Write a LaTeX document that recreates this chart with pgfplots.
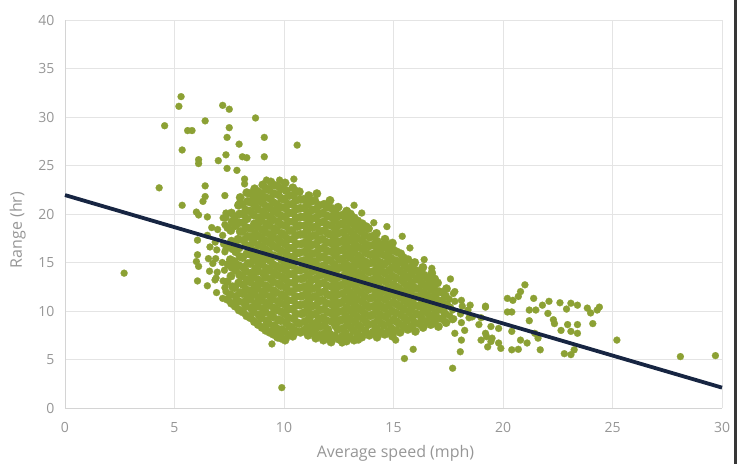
\documentclass[border=0pt]{standalone}
\usepackage{fontspec}
\setmainfont{Open Sans}
\usepackage{pgfplots}
\pgfplotsset{compat=1.18}
\definecolor{ptgreen}{RGB}{140,161,52}
\definecolor{ptnavy}{RGB}{23,37,66}
\definecolor{gridc}{RGB}{228,228,228}
\definecolor{axc}{RGB}{212,212,212}
\definecolor{txtc}{RGB}{150,150,150}
\begin{document}
\begin{tikzpicture}
\begin{axis}[
  set layers,
  at={(0,0)}, anchor=south west,
  scale only axis, width=657bp, height=388bp,
  xmin=0, xmax=30, ymin=0, ymax=40,
  xtick={0,5,...,30}, ytick={0,5,...,40},
  grid=major, major grid style={draw=gridc, line width=0.8bp},
  axis lines*=left, axis line style={draw=axc, line width=0.8bp},
  major tick length=0pt,
  /pgf/number format/assume math mode=true,
  ticklabel style={font=\fontsize{14bp}{16bp}\selectfont, text=txtc},
  yticklabel style={xshift=-7bp},
  xticklabel style={yshift=-11bp},
  xlabel={Average speed (mph)}, ylabel={Range (hr)},
  every axis x label/.style={at={(axis description cs:0.503,-0.116)}, anchor=center, font=\fontsize{16bp}{18bp}\selectfont, text=txtc},
  every axis y label/.style={at={(axis description cs:-0.072,0.459)}, rotate=90, anchor=center, font=\fontsize{16bp}{18bp}\selectfont, text=txtc},
]
% sparse points
\addplot[only marks, mark=*, mark size=3.5bp, mark options={fill=ptgreen, draw=ptgreen, line width=0.2bp}] coordinates {
(2.7,13.9) (4.3,22.7) (4.55,29.1) (5.3,32.1) (5.2,31.1) (5.6,28.6) (5.8,28.6) (5.35,26.6)
(6.4,29.6) (7.2,31.2) (7.5,30.8) (8.7,29.9) (7.5,28.9) (7.4,27.9) (9.1,27.9) (7.95,27.2)
(10.6,27.1) (7.35,26.1) (6.1,25.6) (6.1,25.2) (7.0,25.5) (8.1,25.9) (8.3,25.8) (9.1,25.9)
(7.4,24.7) (7.85,24.5) (8.2,23.6) (8.2,23.1) (6.4,22.9) (6.4,21.8) (6.3,21.3) (7.3,21.9)
(5.35,20.9) (6.0,20.2) (6.1,19.9) (6.5,19.7) (7.35,20.1) (7.35,19.6) (7.95,21.1) (9.2,23.5)
(9.8,23.5) (10.45,23.6) (10.5,22.5) (6.05,15.8) (6.0,15.1) (6.1,14.6) (6.05,13.1) (6.05,17.3)
(6.75,14.9) (6.9,13.4) (6.7,18.6) (7.35,16.4) (7.35,12.0) (7.8,11.0) (9.15,8.45) (9.5,8.1)
(9.8,7.8) (9.45,6.6) (9.9,2.1) (10.4,8.0) (11.3,8.6) (13.2,20.9) (13.55,20.1) (14.1,19.1)
(14.7,18.7) (15.4,17.7) (15.75,16.5) (16.4,15.3) (16.75,14.4) (17.6,13.3) (17.8,12.0) (18.1,11.1)
(18.5,10.6) (19.2,10.4) (17.7,9.1) (17.8,7.7) (18.1,7.0) (18.25,8.0) (18.05,5.8) (17.7,4.1)
(15.5,5.1) (15.9,6.05) (15.1,7.0) (12.65,6.7) (13.4,7.0) (11.8,7.7) (19.25,7.35) (19.45,6.85)
(21.0,12.7) (20.8,12.0) (20.7,11.5) (20.2,11.3) (20.45,11.1) (21.4,11.3) (22.1,11.0) (22.6,10.85)
(23.1,10.8) (23.4,10.6) (23.85,10.3) (24.3,10.1) (19.2,10.5) (20.2,9.9) (20.4,9.9) (21.2,10.1)
(21.5,10.1) (21.2,9.0) (22.05,9.75) (22.3,9.1) (22.35,8.7) (22.95,8.6) (23.4,8.6) (24.1,8.7)
(22.65,8.0) (23.1,7.9) (23.4,7.7) (25.2,7.0) (19.2,7.7) (19.5,7.2) (19.8,6.7) (19.9,6.15)
(20.4,6.0) (20.7,6.05) (20.8,7.0) (21.1,6.7) (21.7,6.0) (21.45,7.7) (21.6,7.2) (22.8,5.6)
(23.1,5.5) (23.25,6.0) (19.45,8.4) (19.8,8.2) (20.4,7.9) (19.0,7.0) (19.3,6.3) (28.1,5.3)
(29.7,5.4) (18.6,9.4) (18.9,8.6) (19.0,9.3) (24.4,10.4) (24.0,9.8) (22.9,10.2) (21.8,10.6)
(6.5,12.6) (6.6,14.1) (6.55,15.4) (6.62,16.6) (6.5,17.8)
(6.92,11.9) (6.85,13.2) (6.95,14.0) (6.88,15.4) (6.93,16.3) (6.86,17.1) (6.97,18.4)
(7.2,11.3) (7.3,12.4) (7.22,13.1) (7.28,14.2) (7.18,15.0) (7.3,16.1) (7.24,16.9) (7.2,17.8) (7.3,18.9) (7.22,19.6)
(17.75,9.2) (17.7,10.1) (17.8,11.0) (17.73,11.8)
(18.1,8.8) (18.06,9.7) (18.14,10.5)
(18.45,9.3) (18.4,10.1)
(17.57,9.5) (17.6,10.4) (17.55,11.2)
};
% dense core
\addplot[only marks, mark=*, mark size=4.3bp, mark options={fill=ptgreen, draw=ptgreen, line width=0.2bp}] coordinates {
(7.6,10.8) (7.55,11.7) (7.65,12.5) (7.58,13.6) (7.62,14.5) (7.55,15.3) (7.66,16.4) (7.6,17.2) (7.57,18.3) (7.63,19.2) (7.6,20.1)
(7.95,10.1) (7.9,11.0) (8.0,11.9) (7.93,12.9) (7.98,13.7) (7.92,14.7) (8.0,15.6) (7.95,16.5) (7.9,17.4) (8.0,18.2) (7.94,19.1) (7.97,20.0) (7.92,20.9) (8.0,21.7)
(8.3,9.5) (8.26,10.5) (8.34,11.4) (8.28,12.2) (8.32,13.2) (8.25,14.1) (8.35,14.9) (8.3,15.9) (8.27,16.8) (8.33,17.7) (8.29,18.6) (8.31,19.5) (8.26,20.4) (8.34,21.3) (8.3,22.2)
(8.65,8.9) (8.6,9.9) (8.7,10.8) (8.63,11.7) (8.68,12.6) (8.62,13.5) (8.7,14.4) (8.64,15.3) (8.66,16.2) (8.6,17.1) (8.69,18.0) (8.65,19.0) (8.61,19.9) (8.68,20.8) (8.64,21.7) (8.66,22.6)
(9.0,8.3) (8.96,9.3) (9.04,10.2) (8.98,11.1) (9.02,12.0) (8.95,12.9) (9.05,13.9) (9.0,14.8) (8.97,15.7) (9.03,16.6) (8.99,17.5) (9.01,18.4) (8.96,19.3) (9.04,20.2) (9.0,21.2) (8.97,22.1) (9.03,23.0)
(9.35,7.8) (9.3,8.7) (9.4,9.6) (9.33,10.6) (9.37,11.5) (9.31,12.4) (9.39,13.3) (9.34,14.2) (9.36,15.2) (9.3,16.1) (9.38,17.0) (9.35,17.9) (9.32,18.8) (9.37,19.7) (9.34,20.6) (9.36,21.6) (9.3,22.5) (9.4,23.3)
(9.7,7.3) (9.66,8.2) (9.74,9.1) (9.68,10.1) (9.72,11.0) (9.65,11.9) (9.75,12.8) (9.7,13.7) (9.67,14.6) (9.73,15.6) (9.69,16.5) (9.71,17.4) (9.66,18.3) (9.74,19.2) (9.7,20.1) (9.67,21.0) (9.73,22.0) (9.7,22.9)
(10.05,7.0) (10.0,7.9) (10.1,8.8) (10.03,9.7) (10.07,10.6) (10.01,11.5) (10.09,12.4) (10.04,13.3) (10.06,14.2) (10.0,15.1) (10.08,16.0) (10.05,16.9) (10.02,17.8) (10.07,18.8) (10.04,19.7) (10.06,20.6) (10.0,21.5) (10.1,22.4) (10.05,23.2)
(10.4,7.4) (10.36,8.3) (10.44,9.2) (10.38,10.2) (10.42,11.1) (10.35,12.0) (10.45,12.9) (10.4,13.8) (10.37,14.7) (10.43,15.6) (10.39,16.5) (10.41,17.4) (10.36,18.3) (10.44,19.2) (10.4,20.1) (10.37,21.0) (10.43,21.9) (10.4,22.7)
(10.75,7.8) (10.7,8.7) (10.8,9.7) (10.73,10.6) (10.77,11.5) (10.71,12.4) (10.79,13.3) (10.74,14.2) (10.76,15.1) (10.7,16.0) (10.78,16.9) (10.75,17.9) (10.72,18.8) (10.77,19.7) (10.74,20.6) (10.76,21.5) (10.7,22.3)
(11.1,7.5) (11.06,8.3) (11.14,9.2) (11.08,10.1) (11.12,11.0) (11.05,11.9) (11.15,12.8) (11.1,13.7) (11.07,14.7) (11.13,15.6) (11.09,16.5) (11.11,17.4) (11.06,18.3) (11.14,19.2) (11.1,20.1) (11.07,21.0) (11.13,21.9)
(11.45,7.2) (11.4,8.0) (11.5,8.8) (11.43,9.7) (11.47,10.6) (11.41,11.5) (11.49,12.4) (11.44,13.3) (11.46,14.2) (11.4,15.1) (11.48,16.0) (11.45,16.9) (11.42,17.8) (11.47,18.7) (11.44,19.6) (11.46,20.5) (11.4,21.4) (11.5,22.1)
(11.8,7.0) (11.84,8.5) (11.78,9.3) (11.82,10.2) (11.75,11.1) (11.85,12.0) (11.8,12.9) (11.77,13.8) (11.83,14.7) (11.79,15.6) (11.81,16.5) (11.76,17.4) (11.84,18.3) (11.8,19.2) (11.77,20.1) (11.83,21.0)
(12.15,6.8) (12.1,7.6) (12.2,8.9) (12.13,9.8) (12.17,10.7) (12.11,11.6) (12.19,12.5) (12.14,13.4) (12.16,14.3) (12.1,15.2) (12.18,16.1) (12.15,17.0) (12.12,17.9) (12.17,18.8) (12.14,19.7) (12.16,20.6) (12.1,21.4)
(12.5,7.1) (12.46,8.1) (12.54,9.0) (12.48,9.9) (12.52,10.8) (12.45,11.7) (12.55,12.6) (12.5,13.5) (12.47,14.4) (12.53,15.3) (12.49,16.2) (12.51,17.1) (12.46,18.0) (12.54,18.9) (12.5,19.8) (12.47,20.7)
(12.85,6.9) (12.8,7.7) (12.9,8.6) (12.83,9.5) (12.87,10.4) (12.81,11.3) (12.89,12.2) (12.84,13.1) (12.86,14.0) (12.8,14.9) (12.88,15.8) (12.85,16.7) (12.82,17.6) (12.87,18.5) (12.84,19.4) (12.86,20.3)
(13.2,7.0) (13.16,8.0) (13.24,8.9) (13.18,9.8) (13.22,10.7) (13.15,11.6) (13.25,12.5) (13.2,13.4) (13.17,14.3) (13.23,15.2) (13.19,16.1) (13.21,17.0) (13.16,17.9) (13.24,18.8) (13.2,19.6)
(13.55,7.3) (13.5,8.3) (13.6,9.2) (13.53,10.1) (13.57,11.0) (13.51,11.9) (13.59,12.8) (13.54,13.7) (13.56,14.6) (13.5,15.5) (13.58,16.4) (13.55,17.3) (13.52,18.2) (13.57,19.0)
(13.9,7.5) (13.86,8.6) (13.94,9.5) (13.88,10.4) (13.92,11.3) (13.85,12.2) (13.95,13.1) (13.9,14.0) (13.87,14.9) (13.93,15.8) (13.89,16.7) (13.91,17.6) (13.86,18.5)
(14.25,7.3) (14.2,8.2) (14.3,9.1) (14.23,10.0) (14.27,10.9) (14.21,11.8) (14.29,12.7) (14.24,13.6) (14.26,14.5) (14.2,15.4) (14.28,16.3) (14.25,17.2) (14.22,18.0)
(14.6,7.6) (14.56,8.5) (14.64,9.4) (14.58,10.3) (14.62,11.2) (14.55,12.1) (14.65,13.0) (14.6,13.9) (14.57,14.8) (14.63,15.7) (14.59,16.6) (14.61,17.4)
(14.95,7.4) (14.9,8.2) (15.0,9.1) (14.93,10.0) (14.97,10.9) (14.91,11.8) (14.99,12.7) (14.94,13.6) (14.96,14.5) (14.9,15.4) (14.98,16.3) (14.95,17.0)
(15.3,7.8) (15.26,8.7) (15.34,9.6) (15.28,10.5) (15.32,11.4) (15.25,12.3) (15.35,13.2) (15.3,14.1) (15.27,15.0) (15.33,15.9)
(15.65,8.1) (15.6,9.0) (15.7,9.9) (15.63,10.8) (15.67,11.7) (15.61,12.6) (15.69,13.5) (15.64,14.4) (15.66,15.3)
(16.0,7.9) (15.96,8.8) (16.04,9.7) (15.98,10.6) (16.02,11.5) (15.95,12.4) (16.05,13.3) (16.0,14.2) (15.97,15.0)
(16.35,8.3) (16.3,9.2) (16.4,10.1) (16.33,11.0) (16.37,11.9) (16.31,12.8) (16.39,13.7) (16.34,14.5)
(16.7,8.6) (16.66,9.5) (16.74,10.4) (16.68,11.3) (16.72,12.2) (16.65,13.1) (16.75,13.9)
(17.05,8.4) (17.0,9.3) (17.1,10.2) (17.03,11.1) (17.07,12.0) (17.01,12.9)
(17.4,8.8) (17.36,9.7) (17.44,10.6) (17.38,11.5) (17.42,12.3)
(7.42,11.2) (7.4,13.0) (7.45,14.8) (7.4,16.7) (7.43,18.6)
(7.77,10.5) (7.8,11.5) (7.75,12.4) (7.79,14.2) (7.74,15.1) (7.8,16.1) (7.76,17.0) (7.78,18.8) (7.75,19.7)
(8.12,9.9) (8.15,10.9) (8.1,11.8) (8.14,12.7) (8.09,13.6) (8.13,14.5) (8.11,15.5) (8.15,17.3) (8.1,18.2) (8.12,19.1) (8.14,20.0) (8.1,21.0)
(8.47,9.3) (8.5,10.3) (8.45,11.2) (8.49,12.1) (8.44,13.0) (8.48,13.9) (8.46,14.9) (8.5,15.8) (8.45,16.7) (8.49,17.6) (8.47,18.5) (8.44,20.3) (8.5,21.2) (8.47,22.1)
(8.82,8.6) (8.85,9.6) (8.8,10.5) (8.84,11.4) (8.79,12.3) (8.83,13.2) (8.81,14.1) (8.85,15.0) (8.8,15.9) (8.84,16.8) (8.82,17.7) (8.79,18.7) (8.85,19.6) (8.81,20.5) (8.83,21.4) (8.8,22.3)
(9.17,8.0) (9.2,9.0) (9.15,9.9) (9.19,10.8) (9.14,11.7) (9.18,12.6) (9.16,13.5) (9.2,14.4) (9.15,15.4) (9.19,16.3) (9.17,17.2) (9.14,18.1) (9.2,19.0) (9.16,19.9) (9.18,20.8) (9.15,21.7) (9.19,22.6)
(9.52,7.6) (9.55,8.5) (9.5,9.4) (9.54,10.3) (9.49,11.2) (9.53,12.1) (9.51,13.0) (9.55,13.9) (9.5,14.8) (9.54,15.7) (9.52,16.7) (9.49,17.6) (9.55,18.5) (9.51,19.4) (9.53,20.3) (9.5,21.2) (9.54,22.1) (9.52,23.0)
(9.87,7.2) (9.9,8.1) (9.85,9.0) (9.89,9.9) (9.84,10.8) (9.88,11.7) (9.86,12.6) (9.9,13.5) (9.85,14.4) (9.89,15.3) (9.87,16.2) (9.84,17.1) (9.9,18.0) (9.86,18.9) (9.88,19.8) (9.85,20.7) (9.89,21.6) (9.87,22.6)
(10.22,7.5) (10.25,8.4) (10.2,9.3) (10.24,10.2) (10.19,11.1) (10.23,12.0) (10.21,12.9) (10.25,13.8) (10.2,14.7) (10.24,15.6) (10.22,16.5) (10.19,17.4) (10.25,18.3) (10.21,19.2) (10.23,20.1) (10.2,21.0) (10.24,21.9)
(10.57,7.9) (10.6,8.8) (10.55,9.7) (10.59,10.6) (10.54,11.5) (10.58,12.4) (10.56,13.3) (10.6,14.2) (10.55,15.1) (10.59,16.0) (10.57,16.9) (10.54,17.8) (10.6,18.7) (10.56,19.6) (10.58,20.5) (10.55,21.4)
(10.92,8.0) (10.95,8.9) (10.9,9.8) (10.94,10.7) (10.89,11.6) (10.93,12.5) (10.91,13.4) (10.95,14.3) (10.9,15.2) (10.94,16.1) (10.92,17.0) (10.89,17.9) (10.95,18.8) (10.91,19.7) (10.93,20.6) (10.9,21.5)
(11.27,7.8) (11.3,8.7) (11.25,9.6) (11.29,10.5) (11.24,11.4) (11.28,12.3) (11.26,13.2) (11.3,14.1) (11.25,15.0) (11.29,15.9) (11.27,16.8) (11.24,17.7) (11.3,18.6) (11.26,19.5) (11.28,20.4) (11.25,21.3)
(11.62,7.5) (11.65,8.4) (11.6,9.2) (11.64,10.1) (11.59,11.0) (11.63,11.9) (11.61,12.8) (11.65,13.7) (11.6,14.6) (11.64,15.5) (11.62,16.4) (11.59,17.3) (11.65,18.2) (11.61,19.1) (11.63,20.0) (11.6,20.9)
(11.97,7.3) (12.0,8.1) (11.95,9.0) (11.99,9.9) (11.94,10.8) (11.98,11.7) (11.96,12.6) (12.0,13.5) (11.95,14.4) (11.99,15.3) (11.97,16.2) (11.94,17.1) (12.0,18.0) (11.96,18.9) (11.98,19.8) (11.95,20.7)
(12.32,7.4) (12.35,8.5) (12.3,9.4) (12.34,10.3) (12.29,11.2) (12.33,12.1) (12.31,13.0) (12.35,13.9) (12.3,14.8) (12.34,15.7) (12.32,16.6) (12.29,17.5) (12.35,18.4) (12.31,19.3) (12.33,20.2)
(12.67,7.4) (12.7,8.2) (12.65,9.1) (12.69,10.0) (12.64,10.9) (12.68,11.8) (12.66,12.7) (12.7,13.6) (12.65,14.5) (12.69,15.4) (12.67,16.3) (12.64,17.2) (12.7,18.1) (12.66,19.0) (12.68,19.9)
(13.02,7.3) (13.05,8.3) (13.0,9.2) (13.04,10.1) (12.99,11.0) (13.03,11.9) (13.01,12.8) (13.05,13.7) (13.0,14.6) (13.04,15.5) (13.02,16.4) (12.99,17.3) (13.05,18.2) (13.01,19.1) (13.03,20.0)
(13.37,7.6) (13.4,8.5) (13.35,9.4) (13.39,10.3) (13.34,11.2) (13.38,12.1) (13.36,13.0) (13.4,13.9) (13.35,14.8) (13.39,15.7) (13.37,16.6) (13.34,17.5) (13.4,18.4) (13.36,19.3)
(13.72,7.9) (13.75,8.8) (13.7,9.7) (13.74,10.6) (13.69,11.5) (13.73,12.4) (13.71,13.3) (13.75,14.2) (13.7,15.1) (13.74,16.0) (13.72,16.9) (13.69,17.8) (13.75,18.7)
(14.07,7.8) (14.1,8.7) (14.05,9.6) (14.09,10.5) (14.04,11.4) (14.08,12.3) (14.06,13.2) (14.1,14.1) (14.05,15.0) (14.09,15.9) (14.07,16.8) (14.04,17.7)
(14.42,7.8) (14.45,8.7) (14.4,9.6) (14.44,10.5) (14.39,11.4) (14.43,12.3) (14.41,13.2) (14.45,14.1) (14.4,15.0) (14.44,15.9) (14.42,16.8)
(14.77,7.9) (14.8,8.8) (14.75,9.7) (14.79,10.6) (14.74,11.5) (14.78,12.4) (14.76,13.3) (14.8,14.2) (14.75,15.1) (14.79,16.0) (14.77,16.8)
(15.12,8.0) (15.15,8.9) (15.1,9.8) (15.14,10.7) (15.09,11.6) (15.13,12.5) (15.11,13.4) (15.15,14.3) (15.1,15.2) (15.14,16.1)
(15.47,8.4) (15.5,9.3) (15.45,10.2) (15.49,11.1) (15.44,12.0) (15.48,12.9) (15.46,13.8) (15.5,14.7) (15.45,15.5)
(15.82,8.4) (15.85,9.3) (15.8,10.2) (15.84,11.1) (15.79,12.0) (15.83,12.9) (15.81,13.8) (15.85,14.6)
(16.17,8.7) (16.2,9.6) (16.15,10.5) (16.19,11.4) (16.14,12.3) (16.18,13.2) (16.16,14.0)
(16.52,8.9) (16.55,9.8) (16.5,10.7) (16.54,11.6) (16.49,12.5) (16.53,13.4)
(16.87,8.9) (16.9,9.8) (16.85,10.7) (16.89,11.6) (16.84,12.5) (16.88,13.3)
(17.22,9.2) (17.25,10.1) (17.2,11.0) (17.24,11.9)
};
\addplot[ptnavy, line width=3.8bp, on layer=axis foreground] coordinates {(0,21.95) (30,2.1)};
\end{axis}
\pgfresetboundingbox
\path[use as bounding box] (-65bp,-56bp) rectangle (674bp,408bp);
\draw[draw={rgb,255:red,55;green,55;blue,55}, line width=2.5bp] (670.5bp,-56bp) -- (670.5bp,408bp);
\end{tikzpicture}
\end{document}
